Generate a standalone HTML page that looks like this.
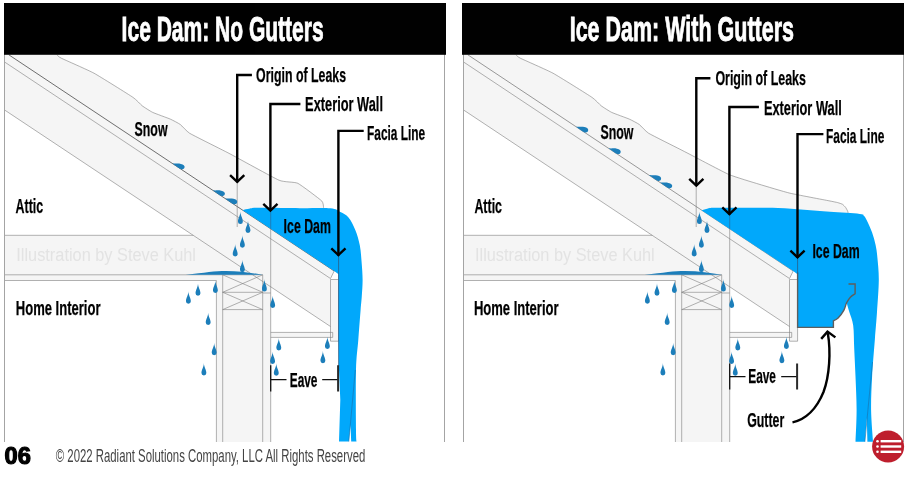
<!DOCTYPE html>
<html lang="en"><head><meta charset="utf-8"><title>Ice Dam: No Gutters vs With Gutters</title>
<style>
html,body{margin:0;padding:0;background:#fff;}
body{width:912px;height:478px;overflow:hidden;font-family:"Liberation Sans",sans-serif;}
svg{display:block;will-change:transform;opacity:0.9999;}
</style></head><body>
<svg width="912" height="478" viewBox="0 0 912 478">
<rect width="912" height="478" fill="#fff"/>
<defs>
<clipPath id="cl"><rect x="4.5" y="54" width="440" height="388"/></clipPath>
<clipPath id="cr"><rect x="463.5" y="54" width="440" height="388"/></clipPath>
</defs>
<g clip-path="url(#cl)"><g transform="translate(0,0)">
<path d="M56.9,54.8 C57.22,55.05 58.58,56.85 61.3,58.2 C64.02,59.55 88.75,70.33 94,73.2 C99.25,76.07 129.37,94.91 132.9,97.3 C136.43,99.69 140.75,104.69 142.2,105.8 C143.65,106.91 150.64,111.42 152.7,112.4 C154.76,113.38 168.28,118.21 170.3,119.1 C172.32,119.99 178.88,123.46 180.3,124.5 C181.72,125.54 186.75,131.5 189.7,133.3 C192.65,135.1 217.47,147.45 220.5,149 C223.53,150.55 226.71,152.11 231,154.4 C235.29,156.69 274.1,178.08 279,180.2 C283.9,182.32 294.67,181.78 297.8,183.3 C300.93,184.82 319.81,199.1 321.7,200.9 C323.59,202.7 323.46,207.29 323.6,207.8 L338.5,274 L8.8,54.8 Z" fill="#f5f5f5"/>
<polygon points="4.5,54.8 8.8,54.8 334.2,270.99 330.5,278.53 330.5,326.53 4.5,109.94" fill="#f5f5f5"/>
<rect x="4.5" y="235.3" width="266.2" height="45.2" fill="#f5f5f5"/>
<rect x="216.4" y="274.8" width="54.3" height="167.2" fill="#f5f5f5"/>
<rect x="270.7" y="332.4" width="62" height="5" fill="#f5f5f5"/>
<rect x="330.5" y="279.5" width="8.1" height="61.7" fill="#f5f5f5"/>
<polygon points="330.5,279.5 334.2,273.4 338.6,274.2 338.6,279.5" fill="#fff"/>
<path d="M56.9,54.8 C57.22,55.05 58.58,56.85 61.3,58.2 C64.02,59.55 88.75,70.33 94,73.2 C99.25,76.07 129.37,94.91 132.9,97.3 C136.43,99.69 140.75,104.69 142.2,105.8 C143.65,106.91 150.64,111.42 152.7,112.4 C154.76,113.38 168.28,118.21 170.3,119.1 C172.32,119.99 178.88,123.46 180.3,124.5 C181.72,125.54 186.75,131.5 189.7,133.3 C192.65,135.1 217.47,147.45 220.5,149 C223.53,150.55 226.71,152.11 231,154.4 C235.29,156.69 274.1,178.08 279,180.2 C283.9,182.32 294.67,181.78 297.8,183.3 C300.93,184.82 319.81,199.1 321.7,200.9 C323.59,202.7 323.46,207.29 323.6,207.8" fill="none" stroke="#7d7d7d" stroke-width="0.6"/>
<line x1="4.5" y1="61.94" x2="330.5" y2="278.53" stroke="#7d7d7d" stroke-width="0.6"/>
<line x1="4.5" y1="109.94" x2="330.5" y2="326.53" stroke="#7d7d7d" stroke-width="0.6"/>
<line x1="8.8" y1="54.8" x2="334.2" y2="270.99" stroke="#555" stroke-width="0.85"/>
<line x1="330.5" y1="278.53" x2="334.2" y2="270.99" stroke="#7d7d7d" stroke-width="0.6"/>
<line x1="4.5" y1="235.3" x2="193.2" y2="235.3" stroke="#7d7d7d" stroke-width="0.6"/>
<line x1="4.5" y1="274.8" x2="262.7" y2="274.8" stroke="#7d7d7d" stroke-width="0.6"/>
<line x1="4.5" y1="280.5" x2="216.4" y2="280.5" stroke="#7d7d7d" stroke-width="0.6"/>
<line x1="216.4" y1="280.5" x2="216.4" y2="442" stroke="#7d7d7d" stroke-width="0.6"/>
<line x1="222.7" y1="274.8" x2="222.7" y2="442" stroke="#7d7d7d" stroke-width="0.6"/>
<line x1="262.7" y1="274.8" x2="262.7" y2="442" stroke="#7d7d7d" stroke-width="0.6"/>
<line x1="270.7" y1="212" x2="270.7" y2="442" stroke="#7d7d7d" stroke-width="0.6"/>
<line x1="222.7" y1="292.3" x2="262.7" y2="292.3" stroke="#7d7d7d" stroke-width="0.6"/>
<line x1="222.7" y1="309.6" x2="262.7" y2="309.6" stroke="#7d7d7d" stroke-width="0.6"/>
<line x1="222.7" y1="274.8" x2="262.7" y2="292.3" stroke="#7d7d7d" stroke-width="0.6"/>
<line x1="222.7" y1="292.3" x2="262.7" y2="274.8" stroke="#7d7d7d" stroke-width="0.6"/>
<line x1="222.7" y1="292.3" x2="262.7" y2="309.6" stroke="#7d7d7d" stroke-width="0.6"/>
<line x1="222.7" y1="309.6" x2="262.7" y2="292.3" stroke="#7d7d7d" stroke-width="0.6"/>
<line x1="262.7" y1="293" x2="270.7" y2="293" stroke="#7d7d7d" stroke-width="0.6"/>
<path d="M270.7,332.4 H332.7 V337.4 H270.7" fill="none" stroke="#7d7d7d" stroke-width="0.6"/>
<path d="M330.5,279.5 V341.2 H338.6 V274.2" fill="none" stroke="#7d7d7d" stroke-width="0.6"/>
<line x1="330.5" y1="279.5" x2="338.6" y2="279.5" stroke="#7d7d7d" stroke-width="0.6"/>
<line x1="237.2" y1="183" x2="237.2" y2="227" stroke="#7d7d7d" stroke-width="0.6"/>
<path d="M242.7,210.2 C243.92,209.93 247.12,209 250,208.6 C252.88,208.2 251.67,207.87 260,207.8 C268.33,207.73 288.28,208.12 300,208.2 C311.72,208.28 323.57,207.67 330.3,208.3 C337.03,208.93 337.37,210.47 340.4,212 C343.43,213.53 346,214.47 348.5,217.5 C351,220.53 353.52,225.57 355.4,230.2 C357.28,234.83 358.77,240 359.8,245.3 C360.83,250.6 361.13,256.22 361.6,262 C362.07,267.78 362.57,274.33 362.6,280 C362.63,285.67 362.13,291 361.8,296 C361.47,301 361.18,302.67 360.6,310 C360.02,317.33 359.07,330 358.3,340 C357.53,350 356.38,355 356,370 C355.62,385 355.9,418.08 356,430 C356.1,441.92 356.5,439.58 356.6,441.5 L351.2,441.5 L350.5,425 L348.8,441.5 L339,441.5 L340.3,400 L339,370 L338.6,341 L338.6,274.2 L334.2,270.99 Z" fill="#00a8fb"/>
<line x1="338.6" y1="256" x2="338.6" y2="366" stroke="#2a5d86" stroke-width="0.8"/>
<line x1="355.3" y1="370" x2="348.8" y2="441.5" stroke="#1b6fa8" stroke-width="0.6"/>
<line x1="270.7" y1="212" x2="270.7" y2="228.8" stroke="#2a6d9e" stroke-width="0.7"/>
<g fill="#1c7eba">
<path d="M185.7,274.8 C205,272.6 215,271 226,271 C240,271 252,273 262.9,274.8 Z" fill="#1c7eba"/>
<path d="M240.4,211.6 C240.25,216.35 237.95,218.1 237.95,221.65 A2.45,2.45 0 1 0 242.85,221.65 C242.85,218.1 240.55,216.35 240.4,211.6 Z"/>
<path d="M248,220.4 C247.85,225.15 245.55,226.9 245.55,230.45 A2.45,2.45 0 1 0 250.45,230.45 C250.45,226.9 248.15,225.15 248,220.4 Z"/>
<path d="M242.4,235.2 C242.25,239.95 239.95,241.7 239.95,245.25 A2.45,2.45 0 1 0 244.85,245.25 C244.85,241.7 242.55,239.95 242.4,235.2 Z"/>
<path d="M235.2,244 C235.05,248.75 232.75,250.5 232.75,254.05 A2.45,2.45 0 1 0 237.65,254.05 C237.65,250.5 235.35,248.75 235.2,244 Z"/>
<path d="M242.4,259.7 C242.25,264.45 239.95,266.2 239.95,269.75 A2.45,2.45 0 1 0 244.85,269.75 C244.85,266.2 242.55,264.45 242.4,259.7 Z"/>
<path d="M264.4,279.1 C264.25,283.85 261.95,285.6 261.95,289.15 A2.45,2.45 0 1 0 266.85,289.15 C266.85,285.6 264.55,283.85 264.4,279.1 Z"/>
<path d="M272.7,295.4 C272.55,300.15 270.25,301.9 270.25,305.45 A2.45,2.45 0 1 0 275.15,305.45 C275.15,301.9 272.85,300.15 272.7,295.4 Z"/>
<path d="M215.4,280.4 C215.25,285.15 212.95,286.9 212.95,290.45 A2.45,2.45 0 1 0 217.85,290.45 C217.85,286.9 215.55,285.15 215.4,280.4 Z"/>
<path d="M198,283.2 C197.85,287.95 195.55,289.7 195.55,293.25 A2.45,2.45 0 1 0 200.45,293.25 C200.45,289.7 198.15,287.95 198,283.2 Z"/>
<path d="M188.4,291.3 C188.25,296.05 185.95,297.8 185.95,301.35 A2.45,2.45 0 1 0 190.85,301.35 C190.85,297.8 188.55,296.05 188.4,291.3 Z"/>
<path d="M208.2,312.5 C208.05,317.25 205.75,319 205.75,322.55 A2.45,2.45 0 1 0 210.65,322.55 C210.65,319 208.35,317.25 208.2,312.5 Z"/>
<path d="M214.2,342.8 C214.05,347.55 211.75,349.3 211.75,352.85 A2.45,2.45 0 1 0 216.65,352.85 C216.65,349.3 214.35,347.55 214.2,342.8 Z"/>
<path d="M203.9,362.9 C203.75,367.65 201.45,369.4 201.45,372.95 A2.45,2.45 0 1 0 206.35,372.95 C206.35,369.4 204.05,367.65 203.9,362.9 Z"/>
<path d="M278.8,338 C278.65,342.75 276.35,344.5 276.35,348.05 A2.45,2.45 0 1 0 281.25,348.05 C281.25,344.5 278.95,342.75 278.8,338 Z"/>
<path d="M272.6,351.4 C272.45,356.15 270.15,357.9 270.15,361.45 A2.45,2.45 0 1 0 275.05,361.45 C275.05,357.9 272.75,356.15 272.6,351.4 Z"/>
<path d="M276.3,363.2 C276.15,367.95 273.85,369.7 273.85,373.25 A2.45,2.45 0 1 0 278.75,373.25 C278.75,369.7 276.45,367.95 276.3,363.2 Z"/>
<path d="M327.4,336.4 C327.25,341.15 324.95,342.9 324.95,346.45 A2.45,2.45 0 1 0 329.85,346.45 C329.85,342.9 327.55,341.15 327.4,336.4 Z"/>
<path d="M322.9,350.7 C322.75,355.45 320.45,357.2 320.45,360.75 A2.45,2.45 0 1 0 325.35,360.75 C325.35,357.2 323.05,355.45 322.9,350.7 Z"/>
<path d="M172.4,163.49 C175.4,163.79 178.4,163.29 180.9,163.89 C183.4,164.49 184.9,165.69 184.6,167.09 C184.4,168.69 183,169.69 181.4,169.29 C179.4,168.69 175.4,165.49 172.4,163.49 Z"/>
<path d="M212.7,190.27 C215.7,190.57 218.7,190.07 221.2,190.67 C223.7,191.27 225.2,192.47 224.9,193.87 C224.7,195.47 223.3,196.47 221.7,196.07 C219.7,195.47 215.7,192.27 212.7,190.27 Z"/>
<path d="M225,198.44 C228,198.74 231,198.24 233.5,198.84 C236,199.44 237.5,200.64 237.2,202.04 C237,203.64 235.6,204.64 234,204.24 C232,203.64 228,200.44 225,198.44 Z"/>
</g>
<path d="M270.7,365.2 V391.6 M270.7,379.6 H286.5 M322.2,379.6 H338.2" stroke="#111" stroke-width="1.3" fill="none"/>
<path d="M338.1,365.2 V391.6" stroke="#2b2b2b" stroke-width="2" fill="none"/>
</g></g>
<g clip-path="url(#cr)"><g transform="translate(459,0)">
<path d="M56.9,54.8 C57.22,55.05 58.58,56.85 61.3,58.2 C64.02,59.55 88.75,70.33 94,73.2 C99.25,76.07 129.37,94.91 132.9,97.3 C136.43,99.69 140.75,104.69 142.2,105.8 C143.65,106.91 150.64,111.42 152.7,112.4 C154.76,113.38 168.28,118.21 170.3,119.1 C172.32,119.99 178.88,123.46 180.3,124.5 C181.72,125.54 186.75,131.5 189.7,133.3 C192.65,135.1 217.47,147.45 220.5,149 C223.53,150.55 227.38,152.53 231,154.4 C234.62,156.27 264.84,172.31 269.9,174.5 C274.96,176.69 295.52,182.83 300,184.2 C304.48,185.57 325.87,191.98 331,193.2 C336.13,194.42 366.5,200.11 370,200.8 C373.5,201.49 377.71,202.34 378.7,202.6 C379.69,202.86 382.92,203.95 383.5,204.3 C384.08,204.65 386.23,206.91 386.6,207.4 C386.97,207.89 388.39,210.52 388.6,211 C388.81,211.48 389.34,213.78 389.4,214 L338.5,274 L8.8,54.8 Z" fill="#f5f5f5"/>
<polygon points="4.5,54.8 8.8,54.8 334.2,270.99 330.5,278.53 330.5,326.53 4.5,109.94" fill="#f5f5f5"/>
<rect x="4.5" y="235.3" width="266.2" height="45.2" fill="#f5f5f5"/>
<rect x="216.4" y="274.8" width="54.3" height="167.2" fill="#f5f5f5"/>
<rect x="270.7" y="332.4" width="62" height="5" fill="#f5f5f5"/>
<rect x="330.5" y="279.5" width="8.1" height="61.7" fill="#f5f5f5"/>
<polygon points="330.5,279.5 334.2,273.4 338.6,274.2 338.6,279.5" fill="#fff"/>
<path d="M56.9,54.8 C57.22,55.05 58.58,56.85 61.3,58.2 C64.02,59.55 88.75,70.33 94,73.2 C99.25,76.07 129.37,94.91 132.9,97.3 C136.43,99.69 140.75,104.69 142.2,105.8 C143.65,106.91 150.64,111.42 152.7,112.4 C154.76,113.38 168.28,118.21 170.3,119.1 C172.32,119.99 178.88,123.46 180.3,124.5 C181.72,125.54 186.75,131.5 189.7,133.3 C192.65,135.1 217.47,147.45 220.5,149 C223.53,150.55 227.38,152.53 231,154.4 C234.62,156.27 264.84,172.31 269.9,174.5 C274.96,176.69 295.52,182.83 300,184.2 C304.48,185.57 325.87,191.98 331,193.2 C336.13,194.42 366.5,200.11 370,200.8 C373.5,201.49 377.71,202.34 378.7,202.6 C379.69,202.86 382.92,203.95 383.5,204.3 C384.08,204.65 386.23,206.91 386.6,207.4 C386.97,207.89 388.39,210.52 388.6,211 C388.81,211.48 389.34,213.78 389.4,214" fill="none" stroke="#7d7d7d" stroke-width="0.6"/>
<line x1="4.5" y1="61.94" x2="330.5" y2="278.53" stroke="#7d7d7d" stroke-width="0.6"/>
<line x1="4.5" y1="109.94" x2="330.5" y2="326.53" stroke="#7d7d7d" stroke-width="0.6"/>
<line x1="8.8" y1="54.8" x2="334.2" y2="270.99" stroke="#6e6e6e" stroke-width="0.7"/>
<line x1="330.5" y1="278.53" x2="334.2" y2="270.99" stroke="#7d7d7d" stroke-width="0.6"/>
<line x1="4.5" y1="235.3" x2="193.2" y2="235.3" stroke="#7d7d7d" stroke-width="0.6"/>
<line x1="4.5" y1="274.8" x2="262.7" y2="274.8" stroke="#7d7d7d" stroke-width="0.6"/>
<line x1="4.5" y1="280.5" x2="216.4" y2="280.5" stroke="#7d7d7d" stroke-width="0.6"/>
<line x1="216.4" y1="280.5" x2="216.4" y2="442" stroke="#7d7d7d" stroke-width="0.6"/>
<line x1="222.7" y1="274.8" x2="222.7" y2="442" stroke="#7d7d7d" stroke-width="0.6"/>
<line x1="262.7" y1="274.8" x2="262.7" y2="442" stroke="#7d7d7d" stroke-width="0.6"/>
<line x1="270.7" y1="212" x2="270.7" y2="442" stroke="#7d7d7d" stroke-width="0.6"/>
<line x1="222.7" y1="292.3" x2="262.7" y2="292.3" stroke="#7d7d7d" stroke-width="0.6"/>
<line x1="222.7" y1="309.6" x2="262.7" y2="309.6" stroke="#7d7d7d" stroke-width="0.6"/>
<line x1="222.7" y1="274.8" x2="262.7" y2="292.3" stroke="#7d7d7d" stroke-width="0.6"/>
<line x1="222.7" y1="292.3" x2="262.7" y2="274.8" stroke="#7d7d7d" stroke-width="0.6"/>
<line x1="222.7" y1="292.3" x2="262.7" y2="309.6" stroke="#7d7d7d" stroke-width="0.6"/>
<line x1="222.7" y1="309.6" x2="262.7" y2="292.3" stroke="#7d7d7d" stroke-width="0.6"/>
<line x1="262.7" y1="293" x2="270.7" y2="293" stroke="#7d7d7d" stroke-width="0.6"/>
<path d="M270.7,332.4 H332.7 V337.4 H270.7" fill="none" stroke="#7d7d7d" stroke-width="0.6"/>
<path d="M330.5,279.5 V341.2 H338.6 V274.2" fill="none" stroke="#7d7d7d" stroke-width="0.6"/>
<line x1="330.5" y1="279.5" x2="338.6" y2="279.5" stroke="#7d7d7d" stroke-width="0.6"/>
<line x1="237.2" y1="183" x2="237.2" y2="227" stroke="#7d7d7d" stroke-width="0.6"/>
<path d="M242.5,210.2 C243.58,209.9 246.73,208.82 249,208.4 C251.27,207.98 249.1,207.8 256.1,207.7 C263.1,207.6 280.52,207.77 291,207.8 C301.48,207.83 310,207.57 319,207.9 C328,208.23 336.33,209.15 345,209.8 C353.67,210.45 361.72,211.12 371,211.8 C380.28,212.48 395.1,213.27 400.7,213.9 C406.3,214.53 403.45,214.58 404.6,215.6 C405.75,216.62 406.18,217.17 407.6,220 C409.02,222.83 411.6,228.42 413.1,232.6 C414.6,236.78 415.72,240.92 416.6,245.1 C417.48,249.28 417.87,251.88 418.4,257.7 C418.93,263.52 419.87,270.95 419.8,280 C419.73,289.05 418.65,302.18 418,312 C417.35,321.82 416.72,328.13 415.9,338.9 C415.08,349.67 413.73,364.75 413.1,376.6 C412.47,388.45 411.95,399.13 412.1,410 C412.25,420.87 413.68,436.5 414,441.8 L408.4,441.8 L407.8,418 L405.9,441.8 L396.5,441.8 C396.68,436.5 397.6,420.87 397.6,410 C397.6,399.13 396.9,386.88 396.5,376.6 C396.1,366.32 395.58,356.82 395.2,348.3 C394.82,339.78 395,331.5 394.2,325.5 C393.4,319.5 391.5,316.08 390.4,312.3 C389.3,308.52 388.07,304.38 387.6,302.8 C387.13,304.07 386.22,307.87 384.8,310.4 C383.38,312.93 380.83,316.27 379.1,318 C377.37,319.73 375.18,320.33 374.4,320.8 L374.4,327.4 L338.6,327.4 L338.6,274.2 L334.2,270.99 Z" fill="#00a8fb"/>
<path d="M338.6,272.6 V327.4 H374.4 V320.8 C375.18,320.33 377.37,319.73 379.1,318 C380.83,316.27 383.38,312.93 384.8,310.4 C386.22,307.87 386.5,305 387.6,302.8 C388.7,300.6 389.98,298.7 391.4,297.2 C392.82,295.7 395.32,294.37 396.1,293.8 V284 H389.5" fill="none" stroke="#5e5e5e" stroke-width="1.4" stroke-linejoin="miter"/>
<line x1="338.6" y1="258" x2="338.6" y2="274" stroke="#2a5d86" stroke-width="0.8"/>
<line x1="413.5" y1="362" x2="405.9" y2="441.8" stroke="#1b6fa8" stroke-width="0.6"/>
<line x1="270.7" y1="215" x2="270.7" y2="228.8" stroke="#2a6d9e" stroke-width="0.7"/>
<g fill="#1c7eba">
<path d="M185.7,274.8 C205,272.6 215,271 226,271 C240,271 252,273 262.9,274.8 Z" fill="#1c7eba"/>
<path d="M240.4,211.6 C240.25,216.35 237.95,218.1 237.95,221.65 A2.45,2.45 0 1 0 242.85,221.65 C242.85,218.1 240.55,216.35 240.4,211.6 Z"/>
<path d="M248,220.4 C247.85,225.15 245.55,226.9 245.55,230.45 A2.45,2.45 0 1 0 250.45,230.45 C250.45,226.9 248.15,225.15 248,220.4 Z"/>
<path d="M242.4,235.2 C242.25,239.95 239.95,241.7 239.95,245.25 A2.45,2.45 0 1 0 244.85,245.25 C244.85,241.7 242.55,239.95 242.4,235.2 Z"/>
<path d="M235.2,244 C235.05,248.75 232.75,250.5 232.75,254.05 A2.45,2.45 0 1 0 237.65,254.05 C237.65,250.5 235.35,248.75 235.2,244 Z"/>
<path d="M242.4,259.7 C242.25,264.45 239.95,266.2 239.95,269.75 A2.45,2.45 0 1 0 244.85,269.75 C244.85,266.2 242.55,264.45 242.4,259.7 Z"/>
<path d="M264.4,279.1 C264.25,283.85 261.95,285.6 261.95,289.15 A2.45,2.45 0 1 0 266.85,289.15 C266.85,285.6 264.55,283.85 264.4,279.1 Z"/>
<path d="M272.7,295.4 C272.55,300.15 270.25,301.9 270.25,305.45 A2.45,2.45 0 1 0 275.15,305.45 C275.15,301.9 272.85,300.15 272.7,295.4 Z"/>
<path d="M215.4,280.4 C215.25,285.15 212.95,286.9 212.95,290.45 A2.45,2.45 0 1 0 217.85,290.45 C217.85,286.9 215.55,285.15 215.4,280.4 Z"/>
<path d="M198,283.2 C197.85,287.95 195.55,289.7 195.55,293.25 A2.45,2.45 0 1 0 200.45,293.25 C200.45,289.7 198.15,287.95 198,283.2 Z"/>
<path d="M188.4,291.3 C188.25,296.05 185.95,297.8 185.95,301.35 A2.45,2.45 0 1 0 190.85,301.35 C190.85,297.8 188.55,296.05 188.4,291.3 Z"/>
<path d="M208.2,312.5 C208.05,317.25 205.75,319 205.75,322.55 A2.45,2.45 0 1 0 210.65,322.55 C210.65,319 208.35,317.25 208.2,312.5 Z"/>
<path d="M214.2,342.8 C214.05,347.55 211.75,349.3 211.75,352.85 A2.45,2.45 0 1 0 216.65,352.85 C216.65,349.3 214.35,347.55 214.2,342.8 Z"/>
<path d="M203.9,362.9 C203.75,367.65 201.45,369.4 201.45,372.95 A2.45,2.45 0 1 0 206.35,372.95 C206.35,369.4 204.05,367.65 203.9,362.9 Z"/>
<path d="M278.8,338 C278.65,342.75 276.35,344.5 276.35,348.05 A2.45,2.45 0 1 0 281.25,348.05 C281.25,344.5 278.95,342.75 278.8,338 Z"/>
<path d="M272.6,351.4 C272.45,356.15 270.15,357.9 270.15,361.45 A2.45,2.45 0 1 0 275.05,361.45 C275.05,357.9 272.75,356.15 272.6,351.4 Z"/>
<path d="M276.3,363.2 C276.15,367.95 273.85,369.7 273.85,373.25 A2.45,2.45 0 1 0 278.75,373.25 C278.75,369.7 276.45,367.95 276.3,363.2 Z"/>
<path d="M327.4,336.4 C327.25,341.15 324.95,342.9 324.95,346.45 A2.45,2.45 0 1 0 329.85,346.45 C329.85,342.9 327.55,341.15 327.4,336.4 Z"/>
<path d="M322.9,350.7 C322.75,355.45 320.45,357.2 320.45,360.75 A2.45,2.45 0 1 0 325.35,360.75 C325.35,357.2 323.05,355.45 322.9,350.7 Z"/>
<path d="M117,126.68 C120,126.98 123,126.48 125.5,127.08 C128,127.68 129.5,128.88 129.2,130.28 C129,131.88 127.6,132.88 126,132.48 C124,131.88 120,128.68 117,126.68 Z"/>
<path d="M149.5,148.28 C152.5,148.58 155.5,148.08 158,148.68 C160.5,149.28 162,150.48 161.7,151.88 C161.5,153.48 160.1,154.48 158.5,154.08 C156.5,153.48 152.5,150.28 149.5,148.28 Z"/>
<path d="M189.9,175.12 C192.9,175.42 195.9,174.92 198.4,175.52 C200.9,176.12 202.4,177.32 202.1,178.72 C201.9,180.32 200.5,181.32 198.9,180.92 C196.9,180.32 192.9,177.12 189.9,175.12 Z"/>
<path d="M201,182.49 C204,182.79 207,182.29 209.5,182.89 C212,183.49 213.5,184.69 213.2,186.09 C213,187.69 211.6,188.69 210,188.29 C208,187.69 204,184.49 201,182.49 Z"/>
</g>
<path d="M270.7,363.4 V389.4 M270.7,376.6 H286.5 M322.2,376.6 H338.2" stroke="#111" stroke-width="1.3" fill="none"/>
<path d="M338.1,363.4 V389.4" stroke="#2b2b2b" stroke-width="2" fill="none"/>
</g></g>
<path d="M4.5,54 V442 M444.5,54 V442 M463.5,54 V442 M903.5,54 V442" stroke="#a4a4a4" stroke-width="1" fill="none"/>
<rect x="4" y="3" width="442" height="51.8" fill="#000"/><rect x="462" y="3" width="442" height="51.8" fill="#000"/>
<text x="121.6" y="41.3" font-size="35.2" fill="#fff" font-family="Liberation Sans, sans-serif" font-weight="bold" stroke="#fff" stroke-width="0.9" textLength="202.1" lengthAdjust="spacingAndGlyphs">Ice Dam: No Gutters</text>
<text x="569.7" y="41" font-size="35.2" fill="#fff" font-family="Liberation Sans, sans-serif" font-weight="bold" stroke="#fff" stroke-width="0.9" textLength="224.3" lengthAdjust="spacingAndGlyphs">Ice Dam: With Gutters</text>
<path d="M251.9,75 H237.2 V182.2" fill="none" stroke="#000" stroke-width="2.4" stroke-linejoin="miter"/><path d="M230.1,175.1 L237.2,181.8 L244.3,175.1" fill="none" stroke="#000" stroke-width="2.4" stroke-linejoin="miter"/>
<path d="M300.4,104 H270.4 V211" fill="none" stroke="#000" stroke-width="2.4" stroke-linejoin="miter"/><path d="M263.3,203.9 L270.4,210.6 L277.5,203.9" fill="none" stroke="#000" stroke-width="2.4" stroke-linejoin="miter"/>
<path d="M363.7,130.9 H338.4 V255.4" fill="none" stroke="#000" stroke-width="2.4" stroke-linejoin="miter"/><path d="M331.3,248.3 L338.4,255 L345.5,248.3" fill="none" stroke="#000" stroke-width="2.4" stroke-linejoin="miter"/>
<text x="256.1" y="82.1" font-size="20.2" fill="#000" font-family="Liberation Sans, sans-serif" font-weight="bold" stroke="#000" stroke-width="0.25" textLength="89.9" lengthAdjust="spacingAndGlyphs">Origin of Leaks</text>
<text x="305.1" y="110.8" font-size="20.2" fill="#000" font-family="Liberation Sans, sans-serif" font-weight="bold" stroke="#000" stroke-width="0.25" textLength="77.9" lengthAdjust="spacingAndGlyphs">Exterior Wall</text>
<text x="367" y="139.9" font-size="20.2" fill="#000" font-family="Liberation Sans, sans-serif" font-weight="bold" stroke="#000" stroke-width="0.25" textLength="58.2" lengthAdjust="spacingAndGlyphs">Facia Line</text>
<text x="134.6" y="135.9" font-size="20.2" fill="#000" font-family="Liberation Sans, sans-serif" font-weight="bold" stroke="#000" stroke-width="0.25" textLength="32.9" lengthAdjust="spacingAndGlyphs">Snow</text>
<text x="15.6" y="212.7" font-size="20.2" fill="#000" font-family="Liberation Sans, sans-serif" font-weight="bold" stroke="#000" stroke-width="0.25" textLength="27.6" lengthAdjust="spacingAndGlyphs">Attic</text>
<text x="15.8" y="314.7" font-size="20.2" fill="#000" font-family="Liberation Sans, sans-serif" font-weight="bold" stroke="#000" stroke-width="0.25" textLength="84.7" lengthAdjust="spacingAndGlyphs">Home Interior</text>
<text x="283.6" y="233.3" font-size="20.2" fill="#000" font-family="Liberation Sans, sans-serif" font-weight="bold" stroke="#000" stroke-width="0.25" textLength="47.3" lengthAdjust="spacingAndGlyphs">Ice Dam</text>
<text x="289.7" y="386.5" font-size="20.2" fill="#000" font-family="Liberation Sans, sans-serif" font-weight="bold" stroke="#000" stroke-width="0.25" textLength="27.8" lengthAdjust="spacingAndGlyphs">Eave</text>
<text x="16.3" y="260.9" font-size="18" fill="#e3e3e3" font-family="Liberation Sans, sans-serif" textLength="179.7" lengthAdjust="spacingAndGlyphs">Illustration by Steve Kuhl</text>
<path d="M710.4,78.3 H696.3 V186" fill="none" stroke="#000" stroke-width="2.4" stroke-linejoin="miter"/><path d="M689.2,178.9 L696.3,185.6 L703.4,178.9" fill="none" stroke="#000" stroke-width="2.4" stroke-linejoin="miter"/>
<path d="M758.9,107 H729.4 V214.5" fill="none" stroke="#000" stroke-width="2.4" stroke-linejoin="miter"/><path d="M722.3,207.4 L729.4,214.1 L736.5,207.4" fill="none" stroke="#000" stroke-width="2.4" stroke-linejoin="miter"/>
<path d="M823.4,134.1 H797.5 V257.7" fill="none" stroke="#000" stroke-width="2.4" stroke-linejoin="miter"/><path d="M790.4,250.6 L797.5,257.3 L804.6,250.6" fill="none" stroke="#000" stroke-width="2.4" stroke-linejoin="miter"/>
<text x="715.4" y="85.1" font-size="20.2" fill="#000" font-family="Liberation Sans, sans-serif" font-weight="bold" stroke="#000" stroke-width="0.25" textLength="90.5" lengthAdjust="spacingAndGlyphs">Origin of Leaks</text>
<text x="763.9" y="114.5" font-size="20.2" fill="#000" font-family="Liberation Sans, sans-serif" font-weight="bold" stroke="#000" stroke-width="0.25" textLength="77.9" lengthAdjust="spacingAndGlyphs">Exterior Wall</text>
<text x="826" y="143.4" font-size="20.2" fill="#000" font-family="Liberation Sans, sans-serif" font-weight="bold" stroke="#000" stroke-width="0.25" textLength="58.3" lengthAdjust="spacingAndGlyphs">Facia Line</text>
<text x="600.5" y="138.6" font-size="20.2" fill="#000" font-family="Liberation Sans, sans-serif" font-weight="bold" stroke="#000" stroke-width="0.25" textLength="32.9" lengthAdjust="spacingAndGlyphs">Snow</text>
<text x="474.4" y="212.7" font-size="20.2" fill="#000" font-family="Liberation Sans, sans-serif" font-weight="bold" stroke="#000" stroke-width="0.25" textLength="27.6" lengthAdjust="spacingAndGlyphs">Attic</text>
<text x="473.9" y="314.7" font-size="20.2" fill="#000" font-family="Liberation Sans, sans-serif" font-weight="bold" stroke="#000" stroke-width="0.25" textLength="84.7" lengthAdjust="spacingAndGlyphs">Home Interior</text>
<text x="812.4" y="258.2" font-size="20.2" fill="#000" font-family="Liberation Sans, sans-serif" font-weight="bold" stroke="#000" stroke-width="0.25" textLength="47.2" lengthAdjust="spacingAndGlyphs">Ice Dam</text>
<text x="748.2" y="383.4" font-size="20.2" fill="#000" font-family="Liberation Sans, sans-serif" font-weight="bold" stroke="#000" stroke-width="0.25" textLength="27.8" lengthAdjust="spacingAndGlyphs">Eave</text>
<text x="747.2" y="427.2" font-size="20.2" fill="#000" font-family="Liberation Sans, sans-serif" font-weight="bold" stroke="#000" stroke-width="0.25" textLength="37.1" lengthAdjust="spacingAndGlyphs">Gutter</text>
<text x="475" y="260.9" font-size="18" fill="#e3e3e3" font-family="Liberation Sans, sans-serif" textLength="179.7" lengthAdjust="spacingAndGlyphs">Illustration by Steve Kuhl</text>
<path d="M792.5,422.3 C806,419.5 817,408 823.5,392 C829.5,376 831,352 827.8,333" fill="none" stroke="#000" stroke-width="2.4"/>
<path d="M821.2,338.9 L827.5,331.6 L835.4,337.4" fill="none" stroke="#000" stroke-width="2.4"/>
<text x="4.5" y="463.9" font-size="24" fill="#000" font-family="Liberation Sans, sans-serif" font-weight="bold" stroke="#000" stroke-width="1.2" textLength="26.3" lengthAdjust="spacingAndGlyphs">06</text>
<text x="55.8" y="461.9" font-size="18.3" fill="#444" font-family="Liberation Sans, sans-serif" textLength="309.5" lengthAdjust="spacingAndGlyphs">© 2022 Radiant Solutions Company, LLC All Rights Reserved</text>
<circle cx="888.1" cy="446.5" r="16" fill="#be1e2d"/>
<circle cx="877.5" cy="441.2" r="1.3" fill="#fff"/><rect x="880.6" y="440" width="20.6" height="2.4" fill="#fff"/>
<circle cx="877.5" cy="446.5" r="1.3" fill="#fff"/><rect x="880.6" y="445.3" width="20.6" height="2.4" fill="#fff"/>
<circle cx="877.5" cy="451.8" r="1.3" fill="#fff"/><rect x="880.6" y="450.6" width="20.6" height="2.4" fill="#fff"/>
</svg></body></html>
